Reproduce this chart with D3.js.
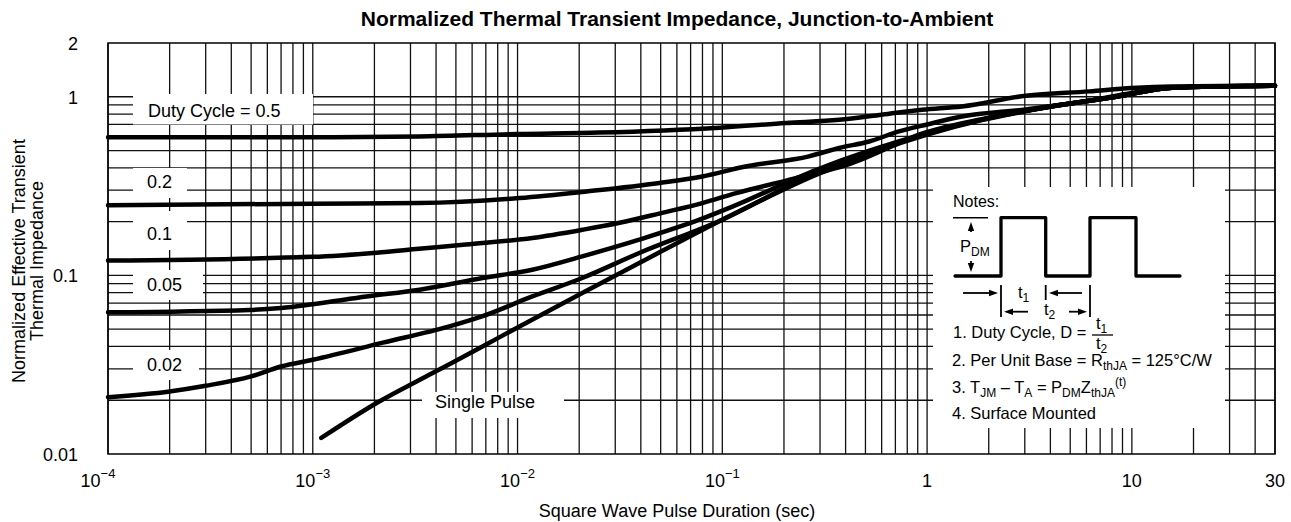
<!DOCTYPE html>
<html>
<head>
<meta charset="utf-8">
<script src="https://cdn.jsdelivr.net/npm/d3@7"></script>
<style>
body { margin: 0; background: #fff; }
svg text { font-family: "Liberation Sans", Arial, Helvetica, sans-serif; fill: #000; }
</style>
</head>
<body>
<script>
// curve data: pulse duration (sec) and normalized impedance
var tDuty05 = [1e-4, 1e-3, 3.3e-3, 0.01, 0.025, 0.097, 0.205, 0.372, 0.60, 0.945, 1.48, 3.04, 6.2, 10, 15.7, 50];
var zDuty05 = [0.593, 0.594, 0.600, 0.619, 0.630, 0.671, 0.713, 0.744, 0.794, 0.847, 0.883, 1.014, 1.072, 1.12, 1.143, 1.153];

var tDuty02 = [1e-4, 1e-3, 3.3e-3, 0.0102, 0.0217, 0.0493, 0.0798, 0.128, 0.265, 0.372, 0.521, 0.729, 1.0, 1.48, 3.04, 6.2, 10, 15.7, 50];
var zDuty02 = [0.247, 0.252, 0.254, 0.271, 0.295, 0.329, 0.358, 0.406, 0.464, 0.517, 0.562, 0.640, 0.70, 0.776, 0.85, 0.95, 1.05, 1.124, 1.153];

var tDuty01 = [1e-4, 1e-3, 2.05e-3, 3.3e-3, 5.6e-3, 0.0118, 0.0207, 0.0315, 0.0509, 0.0798, 0.117, 0.205, 0.417, 1, 1.85, 3.94, 8.4, 15.7, 50];
var zDuty01 = [0.121, 0.127, 0.134, 0.141, 0.149, 0.162, 0.180, 0.197, 0.224, 0.254, 0.289, 0.339, 0.42, 0.635, 0.75, 0.88, 1.0, 1.124, 1.153];

var tDuty005 = [1e-4, 4.9e-4, 7e-4, 1e-3, 1.83e-3, 3.33e-3, 6.74e-3, 0.0118, 0.0207, 0.0393, 0.0773, 0.112, 0.288, 1, 1.85, 3.94, 8.4, 15.7, 50];
var zDuty005 = [0.0621, 0.064, 0.0657, 0.069, 0.0762, 0.0832, 0.0967, 0.1076, 0.1278, 0.1585, 0.205, 0.2425, 0.39, 0.625, 0.745, 0.88, 1.0, 1.124, 1.153];

var tDuty002 = [1e-4, 2e-4, 3e-4, 5e-4, 7e-4, 1e-3, 2.2e-3, 4.65e-3, 6.7e-3, 0.0118, 0.0207, 0.0393, 0.1, 0.288, 1, 1.85, 3.94, 8.4, 15.7, 50];
var zDuty002 = [0.0208, 0.0224, 0.0241, 0.0272, 0.0309, 0.0337, 0.042, 0.0518, 0.0589, 0.0762, 0.0967, 0.1335, 0.205, 0.376, 0.62, 0.745, 0.88, 1.0, 1.124, 1.153];

var tSingle = [1.1e-3, 2.05e-3, 3.85e-3, 6.74e-3, 9.9e-3, 0.0207, 0.0393, 0.1, 0.288, 1, 1.85, 3.94, 8.4, 15.7, 50];
var zSingle = [0.0123, 0.0193, 0.0284, 0.040, 0.0508, 0.0797, 0.1173, 0.205, 0.366, 0.615, 0.74, 0.875, 1.0, 1.124, 1.153];

// axis ticks
var xTickValues = [1e-4, 1e-3, 1e-2, 1e-1, 1, 10, 50];
var xTickBase = ["10", "10", "10", "10", "1", "10", "30"];
var xTickExp = ["\u22124", "\u22123", "\u22122", "\u22121", "", "", ""];
var yTickValues = [0.01, 0.1, 1, 2];
var yTickLabels = ["0.01", "0.1", "1", "2"];

var curveLabels = ["Duty Cycle = 0.5", "0.2", "0.1", "0.05", "0.02", "Single Pulse"];

// set the dimensions and margins of the plot
var margin = {top: 43, right: 16, bottom: 68, left: 108},
    width = 1291 - margin.left - margin.right,
    height = 522 - margin.top - margin.bottom;

var x = d3.scaleLog().domain([1e-4, 50]).range([0, width]);
var y = d3.scaleLog().domain([0.01, 2]).range([height, 0]);

var svg = d3.select("body").append("svg")
        .attr("width", 1291)
        .attr("height", 522),
    g = svg.append("g")
        .attr("transform", "translate(" + margin.left + "," + margin.top + ")");

// grid lines (1..9 per decade)
var xGrid = [];
[1e-4, 1e-3, 1e-2, 1e-1, 1, 10].forEach(function(d) {
    for (var k = 1; k <= 9; ++k) {
        if (k * d <= 50) xGrid.push(k * d);
    }
});
var yGrid = [];
[0.01, 0.1].forEach(function(d) {
    for (var k = 2; k <= 9; ++k) yGrid.push(k * d);
});
yGrid.push(0.1, 1);

g.selectAll(".vgrid")
    .data(xGrid)
    .enter().append("line")
    .attr("class", "vgrid")
    .attr("x1", function(d) { return x(d); })
    .attr("x2", function(d) { return x(d); })
    .attr("y1", 0)
    .attr("y2", height)
    .attr("stroke", "#111")
    .attr("stroke-width", 1.3);

g.selectAll(".hgrid")
    .data(yGrid)
    .enter().append("line")
    .attr("class", "hgrid")
    .attr("x1", 0)
    .attr("x2", width)
    .attr("y1", function(d) { return y(d); })
    .attr("y2", function(d) { return y(d); })
    .attr("stroke", "#111")
    .attr("stroke-width", 1.3);

// white boxes behind the curve labels: [left, top, right, bottom, text x, text baseline]
var labelBoxes = [
    [25, 51, 205, 81.5, 40, 74],
    [25, 125, 79, 155, 39, 145],
    [25, 168, 79, 207, 39, 197],
    [25, 227, 95, 257, 39, 247.7],
    [25, 307, 91, 337, 39, 327.7],
    [314, 349, 456, 375, 327, 365]
];
labelBoxes.forEach(function(b, i) {
    g.append("rect")
        .attr("x", b[0]).attr("y", b[1])
        .attr("width", b[2] - b[0]).attr("height", b[3] - b[1])
        .attr("fill", "#fff");
    g.append("text")
        .attr("x", b[4]).attr("y", b[5])
        .style("font-size", "18px")
        .text(curveLabels[i]);
});

// notes box
var notes = g.append("g").attr("transform", "translate(825,144)");
notes.append("rect")
    .attr("width", 292).attr("height", 241)
    .attr("fill", "#fff");

// curves
var line = d3.line()
    .x(function(d) { return x(d[0]); })
    .y(function(d) { return y(d[1]); })
    .curve(d3.curveMonotoneX);

var series = [
    d3.zip(tDuty05, zDuty05),
    d3.zip(tDuty02, zDuty02),
    d3.zip(tDuty01, zDuty01),
    d3.zip(tDuty005, zDuty005),
    d3.zip(tDuty002, zDuty002),
    d3.zip(tSingle, zSingle)
];
g.selectAll(".curve")
    .data(series)
    .enter().append("path")
    .attr("class", "curve")
    .attr("d", line)
    .attr("fill", "none")
    .attr("stroke", "#000")
    .attr("stroke-width", 4.5)
    .attr("stroke-linecap", "round")
    .attr("stroke-linejoin", "round");

// frame
g.append("rect")
    .attr("width", width).attr("height", height)
    .attr("fill", "none")
    .attr("stroke", "#000")
    .attr("stroke-width", 1.5);

// notes content
function arrow(gr, x1, y1, x2, y2) {
    var dx = x2 - x1, dy = y2 - y1, len = Math.sqrt(dx * dx + dy * dy);
    var ux = dx / len, uy = dy / len, hl = 9, hw = 3.2;
    var bx = x2 - ux * hl, by = y2 - uy * hl;
    gr.append("line")
        .attr("x1", x1).attr("y1", y1).attr("x2", bx).attr("y2", by)
        .attr("stroke", "#000").attr("stroke-width", 1.8);
    gr.append("path")
        .attr("d", "M" + x2 + "," + y2 + "L" + (bx - uy * hw) + "," + (by + ux * hw) +
            "L" + (bx + uy * hw) + "," + (by - ux * hw) + "Z")
        .attr("fill", "#000");
}
function seg(gr, x1, y1, x2, y2, w) {
    gr.append("line")
        .attr("x1", x1).attr("y1", y1).attr("x2", x2).attr("y2", y2)
        .attr("stroke", "#000").attr("stroke-width", w);
}

notes.append("text").attr("x", 20).attr("y", 20)
    .style("font-size", "16px").text("Notes:");

notes.append("path")
    .attr("d", "M22,89H68V30.7H112.7V89H157V30.7H203V89H247")
    .attr("fill", "none")
    .attr("stroke", "#000")
    .attr("stroke-width", 3.3)
    .attr("stroke-linejoin", "round")
    .attr("stroke-linecap", "round");

seg(notes, 20, 30.7, 55, 30.7, 1.5);
arrow(notes, 38, 45, 38, 35);
arrow(notes, 38, 74, 38, 85);
var pdm = notes.append("text").attr("x", 27).attr("y", 64.5).style("font-size", "16.5px");
pdm.append("tspan").text("P");
pdm.append("tspan").attr("dy", 4).style("font-size", "12px").text("DM");

seg(notes, 68, 98, 68, 130, 1.8);
seg(notes, 112.7, 98, 112.7, 113, 1.8);
seg(notes, 157, 98, 157, 130, 1.8);
arrow(notes, 30, 106, 65, 106);
arrow(notes, 149, 106, 116, 106);
arrow(notes, 95, 124.7, 71, 124.7);
arrow(notes, 136, 124.7, 154, 124.7);

var t1 = notes.append("text").attr("x", 85).attr("y", 111).style("font-size", "16.5px");
t1.append("tspan").text("t");
t1.append("tspan").attr("dy", 4).style("font-size", "12px").text("1");
var t2 = notes.append("text").attr("x", 111).attr("y", 128).style("font-size", "16.5px");
t2.append("tspan").text("t");
t2.append("tspan").attr("dy", 4).style("font-size", "12px").text("2");

notes.append("text").attr("x", 20).attr("y", 151)
    .style("font-size", "16.5px").text("1. Duty Cycle, D =");
var f1 = notes.append("text").attr("x", 163).attr("y", 142).style("font-size", "16.5px");
f1.append("tspan").text("t");
f1.append("tspan").attr("dy", 4).style("font-size", "12px").text("1");
seg(notes, 159, 148, 180, 148, 1.3);
var f2 = notes.append("text").attr("x", 163).attr("y", 162).style("font-size", "16.5px");
f2.append("tspan").text("t");
f2.append("tspan").attr("dy", 4).style("font-size", "12px").text("2");

var n2 = notes.append("text").attr("x", 19).attr("y", 179).style("font-size", "16.5px");
n2.append("tspan").text("2. Per Unit Base = R");
n2.append("tspan").attr("dy", 4).style("font-size", "12px").text("thJA");
n2.append("tspan").attr("dy", -4).text(" = 125\u00b0C/W");

var n3 = notes.append("text").attr("x", 19).attr("y", 206).style("font-size", "16.5px");
n3.append("tspan").text("3. T");
n3.append("tspan").attr("dy", 4).style("font-size", "12px").text("JM");
n3.append("tspan").attr("dy", -4).text(" \u2013 T");
n3.append("tspan").attr("dy", 4).style("font-size", "12px").text("A");
n3.append("tspan").attr("dy", -4).text(" = P");
n3.append("tspan").attr("dy", 4).style("font-size", "12px").text("DM");
n3.append("tspan").attr("dy", -4).text("Z");
n3.append("tspan").attr("dy", 4).style("font-size", "12px").text("thJA");
n3.append("tspan").attr("dy", -11).style("font-size", "12px").text("(t)");

notes.append("text").attr("x", 19).attr("y", 232)
    .style("font-size", "16.5px").text("4. Surface Mounted");

// x tick labels with exponents
g.selectAll(".xtick")
    .data(xTickValues)
    .enter().append("text")
    .attr("class", "xtick")
    .attr("x", function(d, i) { return x(d) + (i === 0 ? -10 : 0); })
    .attr("y", height + 33)
    .attr("text-anchor", "middle")
    .style("font-size", "18px")
    .each(function(d, i) {
        var t = d3.select(this);
        t.append("tspan").text(xTickBase[i]);
        if (xTickExp[i]) {
            t.append("tspan").attr("dy", -9).style("font-size", "13px").text(xTickExp[i]);
        }
    });

// y tick labels
g.selectAll(".ytick")
    .data(yTickValues)
    .enter().append("text")
    .attr("class", "ytick")
    .attr("x", -30)
    .attr("y", function(d) { return y(d) + 7; })
    .attr("text-anchor", "end")
    .style("font-size", "18px")
    .text(function(d, i) { return yTickLabels[i]; });

// titles
svg.append("text")
    .attr("x", 677).attr("y", 26)
    .attr("text-anchor", "middle")
    .style("font-size", "21px")
    .style("font-weight", "bold")
    .text("Normalized Thermal Transient Impedance, Junction-to-Ambient");

svg.append("text")
    .attr("x", 677).attr("y", 517)
    .attr("text-anchor", "middle")
    .style("font-size", "18px")
    .text("Square Wave Pulse Duration (sec)");

var ylab = svg.append("text")
    .attr("transform", "translate(25,261) rotate(-90)")
    .attr("text-anchor", "middle")
    .style("font-size", "18px");
ylab.append("tspan").attr("x", 0).attr("y", 0).text("Normalized Effective Transient");
ylab.append("tspan").attr("x", 0).attr("y", 17.5).text("Thermal Impedance");
</script>
</body>
</html>
